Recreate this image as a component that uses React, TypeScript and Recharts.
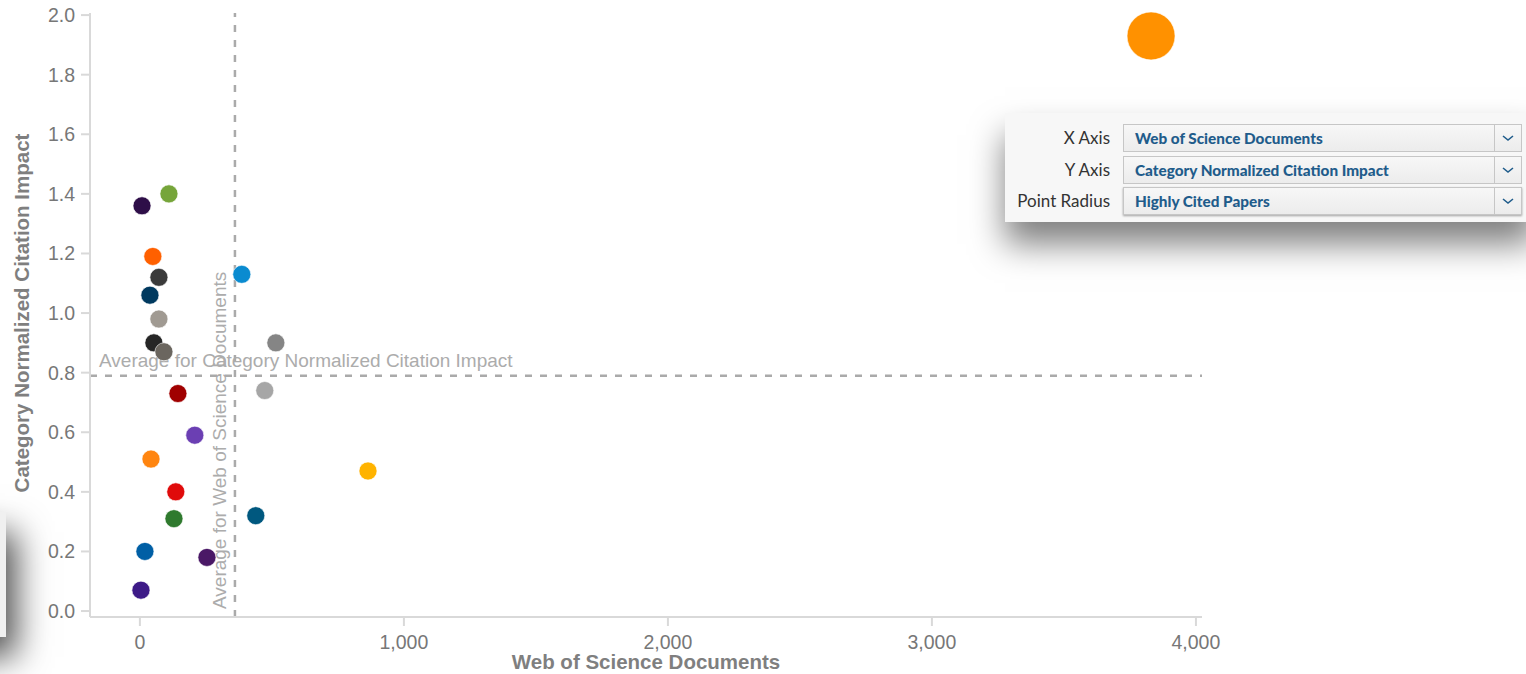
import React from 'react'
import {
  ScatterChart,
  Scatter,
  XAxis,
  YAxis,
  ZAxis,
  ReferenceLine,
  Cell,
} from 'recharts'

// Web of Science Documents per institution
const DOCS = [3830, 8, 110, 49, 72, 38, 72, 53, 91, 144, 208, 42, 136, 129, 19, 254, 4, 386, 515, 473, 439, 864]
// Category Normalized Citation Impact
const CNCI = [1.93, 1.36, 1.4, 1.19, 1.12, 1.06, 0.98, 0.9, 0.87, 0.73, 0.59, 0.51, 0.4, 0.31, 0.2, 0.18, 0.07, 1.13, 0.9, 0.74, 0.32, 0.47]
// Highly Cited Papers (point radius)
const HCP = [58, 1, 1, 1, 1, 1, 1, 1, 1, 1, 1, 1, 1, 1, 1, 1, 1, 1, 1, 1, 1, 1]

const POINT_COLORS = [
  '#ff9100', '#2e0e48', '#76a53a', '#ff6000', '#3a3a3a', '#00395f', '#a09a92', '#262626',
  '#6b665f', '#a00000', '#6b3fb3', '#ff8510', '#e00b0b', '#2f7a2e', '#005fa5', '#4a1866',
  '#3d1a87', '#0a8bd0', '#858585', '#a6a6a6', '#00587f', '#ffb300',
]

const AVG_DOCS = 360
const AVG_CNCI = 0.79

const X_TICKS = [0, 1000, 2000, 3000, 4000]
const Y_TICKS = [0, 0.2, 0.4, 0.6, 0.8, 1.0, 1.2, 1.4, 1.6, 1.8, 2.0]

const SELECTS = [
  { label: 'X Axis', value: 'Web of Science Documents' },
  { label: 'Y Axis', value: 'Category Normalized Citation Impact' },
  { label: 'Point Radius', value: 'Highly Cited Papers' },
]

const data = DOCS.map((d, i) => ({ docs: d, cnci: CNCI[i], hcp: HCP[i] }))

const FONT = '"Liberation Sans", Arial, sans-serif'
const axisLine = { stroke: '#d9d9d9', strokeWidth: 2 }
const tickStyle = { fontSize: 19.5, fontFamily: FONT, fill: '#777' }
const refLabel = { fontSize: 19, fontFamily: FONT, fill: '#acacac' }

function Chevron() {
  return (
    <svg width="12" height="8" viewBox="0 0 12 8">
      <polyline points="1,2 6,6 11,2" fill="none" stroke="#1f5c8b" strokeWidth="1.6" />
    </svg>
  )
}

function Controls() {
  return (
    <div
      style={{
        position: 'absolute',
        left: 1005,
        top: 113,
        width: 530,
        height: 109,
        background: '#f7f7f7',
        boxShadow: '0 22px 32px rgba(0,0,0,0.5)',
        fontFamily: 'Lato, "Open Sans", sans-serif',
      }}
    >
      {SELECTS.map((s, i) => (
        <div key={s.label} style={{ position: 'absolute', top: 11 + i * 31.5, left: 0, height: 28, width: 530 }}>
          <div
            style={{
              position: 'absolute',
              right: 530 - 105,
              top: 3,
              fontSize: 17,
              color: '#333',
              whiteSpace: 'nowrap',
            }}
          >
            {s.label}
          </div>
          <div
            style={{
              position: 'absolute',
              left: 118,
              top: 0,
              width: 397,
              height: 26,
              border: '1px solid #c6c6c6',
              background: 'linear-gradient(#f7f7f7, #ececec)',
              boxShadow: i === 2 ? '0 1px 2px rgba(0,0,0,0.35)' : 'none',
            }}
          >
            <div
              style={{
                position: 'absolute',
                left: 11,
                top: 4,
                fontSize: 15.3,
                fontWeight: 900,
                color: '#1f5c8b',
                whiteSpace: 'nowrap',
              }}
            >
              {s.value}
            </div>
            <div
              style={{
                position: 'absolute',
                right: 0,
                top: 0,
                width: 26,
                height: 26,
                borderLeft: '1px solid #c6c6c6',
                display: 'flex',
                alignItems: 'center',
                justifyContent: 'center',
              }}
            >
              <Chevron />
            </div>
          </div>
        </div>
      ))}
    </div>
  )
}

export default function App() {
  return (
    <div
      style={{
        position: 'absolute',
        left: 0,
        top: 0,
        width: 1526,
        height: 674,
        overflow: 'hidden',
        background: '#fff',
      }}
    >
      <ScatterChart width={1526} height={674} margin={{ top: 13, right: 324, left: 0, bottom: 0 }}>
        <XAxis
          type="number"
          dataKey="docs"
          domain={[-189, 4023]}
          ticks={X_TICKS}
          tickFormatter={(v: number) => v.toLocaleString('en-US')}
          height={57}
          tick={tickStyle}
          tickSize={9}
          tickMargin={9}
          axisLine={axisLine}
          tickLine={axisLine}
          label={() => (
            <text
              x={646}
              y={669}
              textAnchor="middle"
              fontSize={20.5}
              fontWeight={700}
              fontFamily={FONT}
              fill="#7f7f7f"
            >
              Web of Science Documents
            </text>
          )}
        />
        <YAxis
          type="number"
          dataKey="cnci"
          domain={[-0.02, 2.007]}
          ticks={Y_TICKS}
          tickFormatter={(v: number) => v.toFixed(1)}
          width={90}
          tick={tickStyle}
          tickSize={9}
          tickMargin={6}
          axisLine={axisLine}
          tickLine={axisLine}
          label={() => (
            <text
              x={29}
              y={313}
              transform="rotate(-90, 29, 313)"
              textAnchor="middle"
              fontSize={20.5}
              fontWeight={700}
              fontFamily={FONT}
              fill="#7f7f7f"
            >
              Category Normalized Citation Impact
            </text>
          )}
        />
        <ZAxis type="number" dataKey="hcp" domain={[1, 58]} range={[255, 1810]} />
        <ReferenceLine
          x={AVG_DOCS}
          stroke="#aaaaaa"
          strokeWidth={2.5}
          strokeDasharray="7 8"
          label={(props: any) => {
            const vb = props.viewBox || {}
            const x = vb.x - 9
            const y = vb.y + vb.height - 8
            return (
              <text x={x} y={y} transform={`rotate(-90, ${x}, ${y})`} textAnchor="start" {...refLabel}>
                Average for Web of Science Documents
              </text>
            )
          }}
        />
        <ReferenceLine
          y={AVG_CNCI}
          stroke="#aaaaaa"
          strokeWidth={2.5}
          strokeDasharray="7 8"
          label={(props: any) => {
            const vb = props.viewBox || {}
            return (
              <text x={vb.x + 9} y={vb.y - 9} textAnchor="start" {...refLabel}>
                Average for Category Normalized Citation Impact
              </text>
            )
          }}
        />
        <Scatter data={data} isAnimationActive={false} stroke="#fff" strokeWidth={1} strokeOpacity={0.6}>
          {data.map((_, i) => (
            <Cell key={i} fill={POINT_COLORS[i]} />
          ))}
        </Scatter>
      </ScatterChart>
      <Controls />
      <div
        style={{
          position: 'absolute',
          left: -300,
          top: 512,
          width: 306,
          height: 125,
          background: '#f0f0f0',
          boxShadow: '10px 20px 32px rgba(0,0,0,0.7)',
        }}
      />
    </div>
  )
}
